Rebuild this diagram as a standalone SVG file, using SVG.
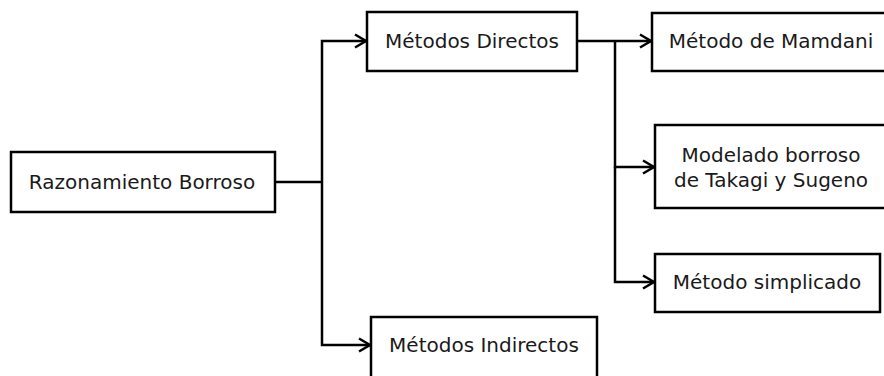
<svg xmlns="http://www.w3.org/2000/svg" width="884" height="376" viewBox="0 0 884 376">
<defs>
<marker id="arr" markerWidth="16" markerHeight="16" refX="13" refY="8" orient="auto" markerUnits="userSpaceOnUse">
<path d="M2,1.5 L13,8 L2,14.5" fill="none" stroke="#000" stroke-width="2.5"/>
</marker>
<style>
.box{fill:#fff;stroke:#000;stroke-width:2.5}
.lbl{font-family:"DejaVu Sans",sans-serif;font-size:20px;fill:#1a1a1a;text-anchor:middle}
.con{fill:none;stroke:#000;stroke-width:2.5}
</style>
</defs>
<rect width="884" height="376" fill="#fff"/>
<g id="connectors">
<path class="con" d="M275,182 H322"/>
<path class="con" d="M322,182 V41 H366" marker-end="url(#arr)"/>
<path class="con" d="M322,182 V345 H370" marker-end="url(#arr)"/>
<path class="con" d="M577,41 H651" marker-end="url(#arr)"/>
<path class="con" d="M615,41 V167 H654" marker-end="url(#arr)"/>
<path class="con" d="M615,167 V282 H654" marker-end="url(#arr)"/>
</g>
<g id="n-razonamiento">
<rect class="box" x="11" y="152" width="264" height="60"/>
<text class="lbl" x="142" y="189">Razonamiento Borroso</text>
</g>
<g id="n-directos">
<rect class="box" x="367" y="12" width="210" height="59"/>
<text class="lbl" x="472" y="48">Métodos Directos</text>
</g>
<g id="n-indirectos">
<rect class="box" x="371" y="317" width="226" height="70"/>
<text class="lbl" x="484" y="352">Métodos Indirectos</text>
</g>
<g id="n-mamdani">
<rect class="box" x="652" y="13" width="240" height="58"/>
<text class="lbl" x="771" y="48">Método de Mamdani</text>
</g>
<g id="n-takagi">
<rect class="box" x="655" y="125" width="240" height="83"/>
<text class="lbl" x="771" y="162">Modelado borroso</text>
<text class="lbl" x="771" y="187">de Takagi y Sugeno</text>
</g>
<g id="n-simplicado">
<rect class="box" x="655" y="254" width="225" height="58"/>
<text class="lbl" x="767" y="289">Método simplicado</text>
</g>
</svg>
